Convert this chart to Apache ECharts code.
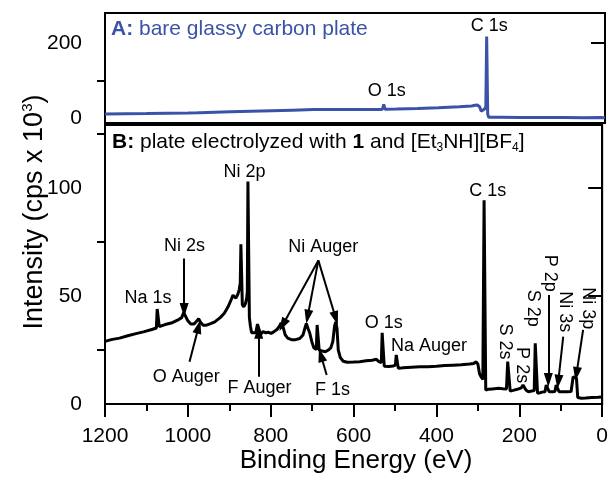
<!DOCTYPE html>
<html><head><meta charset="utf-8">
<script src="https://cdn.jsdelivr.net/npm/echarts@6/dist/echarts.min.js"></script>
<style>html,body{margin:0;padding:0;background:#fff}#c{width:611px;height:477px}</style>
</head><body><div id="c"></div>
<script>
// ---------- data ----------
const xTickValues = [0, 200, 400, 600, 800, 1000, 1200];
const aTickLabels = [0, 200];
const aMinorTicks = [100];
const bTickLabels = [0, 50, 100];
const bMinorTicks = [25, 75, 125];

// Panel A: bare glassy carbon plate
const aEnergy = [1200,1100,1000,978,975,972,900,800,750,700,688,685,682,650,600,540,534,531,528,500,450,400,350,320,312,306,301,297,293,289,286,284,281.5,279,250,200,100,50,10,0];
const aIntensity = [10.5,11.8,13.3,14,17,14.2,16.5,19.5,21,22.5,22.8,27,23,23,23,23,23.5,36,23.5,24,25.5,27.5,30,32,34,34.5,30,18,14.5,24,30,217,10,2,1.8,1.5,1.2,1,1.5,1];

// Panel B: plate electrolyzed
const bEnergy = [1200,1185,1165,1145,1125,1105,1085,1076,1074,1071,1069,1055,1040,1025,1015,1010,1006,1000,993,985,978,974,970,963,955,945,935,922,912,903,895,891,887,884,879,876,873.5,872,870,868.5,865,861,858,856.5,855,853,851.5,849,846,842,836,832,829,825,819,812,805,799,792,785,779,775,770,765,759,750,740,730,722,717,714,710,706,701,696,690,688,685,683,676,668,661,655,650,646,643,640,637,632,625,615,600,585,570,555,545,538,533,531,528,526,515,505,499,497,495,492,480,460,440,420,400,380,360,340,320,310,304,300,296,292,288,285,283,281,275,265,250,240,231,228,225,222,215,205,195,191,187,184,178,170,164,161.5,158.5,156,150,145,138,135,131,128,120,114,111,107,104,95,85,75,70,66,62,59,56,50,40,25,10,0];
const bIntensity = [29,29.8,30.5,31.6,32.6,33.5,34.6,35.2,44,44,35.8,36.8,37.5,38.8,40,42.3,41.5,38.5,37,37,38.5,39.5,38,36.5,36.5,37.2,38,40,42,45,48.5,50.4,50,49,51,53,56,74,74,46,45,46.5,49,52,103,103,40,36,33,32.5,33,37,35,32,33.5,33,33.2,32.7,33.5,34.5,36,37.5,35.5,32,30.5,29.8,29.8,30.3,32,35.5,37.3,35,33,29,26,25.2,36.6,36.6,25,24.5,24.2,25,26,29,36,38,35,25,21.5,19.8,19.3,19.4,19.6,20,20.3,20.7,19.5,19.2,33,33,17.5,17.4,17.6,18,22.7,22.5,16.5,16.8,17,17.2,17.3,17.5,17.8,18,18.2,18.5,18.8,19.5,18.5,14,12.5,11.4,94.4,94.4,6.5,6.8,7,7.3,7.1,7,19.6,19.6,6,6.3,6.8,7.5,8.8,8.8,6.5,5.7,6,6.2,28.1,28.1,5,5.2,5.5,5.7,8.8,8.8,5.7,5.7,5.8,8.8,8.8,5.7,5.7,5.7,5.8,12.6,12.6,12,3,2.6,2.7,2.8,3,3.1,3.2];

// Annotations
const aLabelNames = ['O 1s', 'C 1s'];
const aLabelPos = [[524, 72.8], [278, 245]];
const bLabelNames = ['Na 1s','Ni 2s','Ni 2p','O Auger','F Auger','Ni Auger','F 1s','O 1s','Na Auger','C 1s','S 2s','P 2s','S 2p','P 2p','Ni 3s','Ni 3p'];
const bLabelPos = [[1096,48.9],[1008,73.1],[863,107.5],[1004,12.6],[827,7.3],[673,72.7],[651,6.5],[527,37.3],[418,26.9],[276,98.8],[234,28.9],[194,18],[166,44.3],[126,60.5],[90,42.7],[34,44.3]];
const bLabelRotated = [false,false,false,false,false,false,false,false,false,false,true,true,true,true,true,true];
const bArrows = [
  [[1009,67.4],[1009,43.5]],
  [[996,19.6],[974,35.8]],
  [[829,12.6],[829,33.5]],
  [[685,66.5],[771,36.6]],
  [[685,66.5],[711,40.4]],
  [[685,66.5],[643,39.7]],
  [[665,13.4],[679,22.7]],
  [[130,50.5],[130,11.1]],
  [[94,31.2],[106,10.3]],
  [[46,34.3],[62,13.9]]
];

// ---------- chart ----------
const F = 'Liberation Sans, Arial, sans-serif';
const BLUE = '#3a52a8';
const zip = (xs, ys) => xs.map((x, i) => [x, ys[i]]);

const chart = echarts.init(document.getElementById('c'), null, {renderer: 'canvas'});

function mainY(grid, min, max, labels) {
  return {
    gridIndex: grid, type: 'value', min: min, max: max, position: 'left',
    axisLine: {show: true, lineStyle: {color: '#000', width: 2}},
    axisTick: {show: true, length: 14, lineStyle: {color: '#000', width: 2}, customValues: labels},
    axisLabel: {show: true, customValues: labels, fontSize: 21, fontFamily: F, color: '#000', margin: 23},
    splitLine: {show: false}
  };
}
function minorY(grid, min, max, ticks) {
  return {
    gridIndex: grid, type: 'value', min: min, max: max, position: 'left', offset: 0,
    axisLine: {show: false},
    axisTick: {show: true, length: 8, lineStyle: {color: '#000', width: 2}, customValues: ticks},
    axisLabel: {show: false},
    splitLine: {show: false}
  };
}
const annLabel = {show: true, position: 'inside', formatter: '{b}', fontSize: 18, fontFamily: F,
                  color: '#000', textBorderWidth: 0, opacity: 1};

const option = {
  animation: false,
  backgroundColor: '#fff',
  grid: [
    {left: 105, right: 6, top: 13, height: 110, show: true, borderColor: '#000', borderWidth: 2, backgroundColor: 'transparent'},
    {left: 105, right: 6, top: 125, bottom: 73, show: true, borderColor: '#000', borderWidth: 2, backgroundColor: 'transparent'}
  ],
  xAxis: [
    {gridIndex: 0, type: 'value', min: 0, max: 1200, inverse: true, show: false},
    {gridIndex: 1, type: 'value', min: 0, max: 1200, interval: 200, inverse: true,
     axisLine: {lineStyle: {color: '#000', width: 2}},
     axisTick: {length: 13, lineStyle: {color: '#000', width: 2}},
     minorTick: {show: true, splitNumber: 2, length: 7, lineStyle: {color: '#000', width: 2}},
     axisLabel: {fontSize: 21, fontFamily: F, color: '#000', margin: 22, formatter: v => String(v)},
     splitLine: {show: false}, minorSplitLine: {show: false}}
  ],
  yAxis: [
    mainY(0, -13.3, 280, aTickLabels),
    minorY(0, -13.3, 280, aMinorTicks),
    mainY(1, 0, 129.2, bTickLabels),
    minorY(1, 0, 129.2, bMinorTicks)
  ],
  series: [
    {type: 'line', xAxisIndex: 0, yAxisIndex: 0, data: zip(aEnergy, aIntensity), symbol: 'none',
     lineStyle: {color: BLUE, width: 3}, z: 3},
    {type: 'line', xAxisIndex: 1, yAxisIndex: 2, data: zip(bEnergy, bIntensity), symbol: 'none',
     lineStyle: {color: '#000', width: 3}, z: 3,
     markLine: {
       silent: true, symbol: ['none', 'triangle'], symbolSize: [9, 14],
       label: {show: false},
       lineStyle: {color: '#000', width: 2, type: 'solid'},
       data: bArrows.map(a => [{coord: a[0]}, {coord: a[1]}])
     }},
    {type: 'scatter', xAxisIndex: 0, yAxisIndex: 0, symbolSize: 0, silent: true, itemStyle: {color: '#000'},
     data: aLabelNames.map((n, i) => ({name: n, value: aLabelPos[i]})),
     label: annLabel},
    {type: 'scatter', xAxisIndex: 1, yAxisIndex: 2, symbolSize: 0, silent: true, itemStyle: {color: '#000'},
     data: bLabelNames.map((n, i) => ({name: n, value: bLabelPos[i], label: bLabelRotated[i] ? {rotate: -90} : {}})),
     label: annLabel}
  ],
  graphic: [
    {type: 'text', x: 111, y: 29, z: 10, style: {
      text: '{b|A:} bare glassy carbon plate', fill: BLUE, fontSize: 21, fontFamily: F, verticalAlign: 'middle',
      rich: {b: {fontWeight: 'bold', fontSize: 21, fontFamily: F, fill: BLUE}}}},
    {type: 'text', x: 112, y: 142, z: 10, style: {
      text: '{b|B:} plate electrolyzed with {b|1} and [Et{s|3}NH][BF{s|4}]', fill: '#000', fontSize: 21, fontFamily: F, verticalAlign: 'middle',
      rich: {b: {fontWeight: 'bold', fontSize: 21, fontFamily: F}, s: {fontSize: 12, fontFamily: F, padding: [12, 0, 0, 0]}}}},
    {type: 'text', x: 35, y: 212, rotation: Math.PI / 2, z: 10, style: {
      text: 'Intensity (cps x 10{p|3})', fill: '#000', fontSize: 27, fontFamily: F, align: 'center', verticalAlign: 'middle',
      rich: {p: {fontSize: 15, fontFamily: F, padding: [0, 0, 14, 0]}}}},
    {type: 'text', x: 356, y: 461, z: 10, style: {
      text: 'Binding Energy (eV)', fill: '#000', fontSize: 26, fontFamily: F, align: 'center', verticalAlign: 'middle'}}
  ]
};
chart.setOption(option);
</script>
</body></html>
